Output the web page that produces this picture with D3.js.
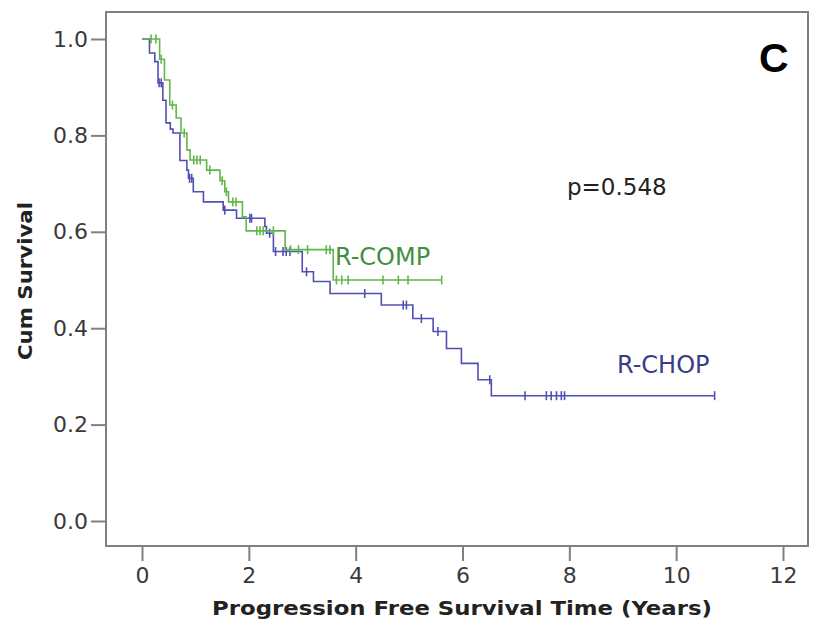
<!DOCTYPE html>
<html>
<head>
<meta charset="utf-8">
<script src="https://cdn.jsdelivr.net/npm/d3@7"></script>
<style>
  html, body { margin: 0; padding: 0; background: #fff; }
  svg { display: block; }
</style>
</head>
<body>
<svg id="chart" width="815" height="630"></svg>
<script>
// ---- Data ----
const xTicks = [0, 2, 4, 6, 8, 10, 12];
const yTicks = [0.0, 0.2, 0.4, 0.6, 0.8, 1.0];

// R-CHOP: event times (years) and survival after each step
const chopTimes = [0.14, 0.24, 0.30, 0.39, 0.45, 0.53, 0.58, 0.71, 0.84, 0.87, 0.96, 1.15, 1.52, 1.77, 2.30, 2.33, 2.46, 3.00, 3.21, 3.52, 4.48, 5.07, 5.45, 5.70, 5.98, 6.29, 6.54];
const chopSurv  = [0.971, 0.953, 0.909, 0.873, 0.826, 0.813, 0.805, 0.748, 0.728, 0.711, 0.683, 0.662, 0.645, 0.628, 0.611, 0.597, 0.559, 0.517, 0.497, 0.472, 0.448, 0.420, 0.393, 0.358, 0.327, 0.293, 0.260];
const chopEnd = 10.72;
const chopCensor = [0.32, 0.36, 0.89, 0.93, 1.55, 2.02, 2.05, 2.39, 2.50, 2.64, 2.70, 2.77, 3.08, 4.17, 4.89, 4.95, 5.23, 5.54, 6.51, 7.17, 7.57, 7.66, 7.76, 7.85, 7.91, 10.72];

// R-COMP
const compTimes = [0.33, 0.42, 0.52, 0.64, 0.73, 0.84, 0.90, 1.21, 1.46, 1.55, 1.62, 1.88, 1.95, 2.68, 3.58];
const compSurv  = [0.958, 0.915, 0.863, 0.836, 0.805, 0.770, 0.749, 0.728, 0.706, 0.683, 0.662, 0.631, 0.602, 0.563, 0.500];
const compEnd = 5.61;
const compCensor = [0.17, 0.26, 0.36, 0.57, 0.79, 0.97, 1.03, 1.09, 1.27, 1.50, 1.58, 1.70, 1.76, 2.15, 2.21, 2.27, 2.46, 2.78, 2.93, 3.10, 3.45, 3.52, 3.64, 3.74, 3.86, 4.51, 4.80, 4.98, 5.61];

const seriesNames = ["R-CHOP", "R-COMP"];
const pValueText = "p=0.548";
const panelLabel = "C";
const xTitle = "Progression Free Survival Time (Years)";
const yTitle = "Cum Survival";

// ---- Layout ----
const svg = d3.select("#chart");
const frame = { left: 106, right: 808, top: 12, bottom: 546 };
const x = d3.scaleLinear().domain([0, 12]).range([142, 783]);
const y = d3.scaleLinear().domain([0, 1]).range([521, 39]);

const axisColor = "#808080";
const tickTextColor = "#3a3a3a";
const chopColor = "#5050b4";
const compColor = "#62b64a";

// Frame
svg.append("rect")
  .attr("x", frame.left).attr("y", frame.top)
  .attr("width", frame.right - frame.left).attr("height", frame.bottom - frame.top)
  .attr("fill", "none").attr("stroke", axisColor).attr("stroke-width", 2);

// Y axis
const yAxis = svg.append("g")
  .attr("transform", `translate(${frame.left},0)`)
  .call(d3.axisLeft(y).tickValues(yTicks).tickFormat(d3.format(".1f")).tickSize(15).tickPadding(3));
yAxis.select(".domain").remove();
yAxis.selectAll("line").attr("stroke", axisColor).attr("stroke-width", 2);
yAxis.selectAll("text")
  .attr("fill", tickTextColor)
  .style("font-family", "'DejaVu Sans', sans-serif")
  .style("font-size", "22px");

// X axis
const xAxis = svg.append("g")
  .attr("transform", `translate(0,${frame.bottom + 1})`)
  .call(d3.axisBottom(x).tickValues(xTicks).tickFormat(d3.format("d")).tickSize(14).tickPadding(6));
xAxis.select(".domain").remove();
xAxis.selectAll("line").attr("stroke", axisColor).attr("stroke-width", 2);
xAxis.selectAll("text")
  .attr("fill", tickTextColor)
  .style("font-family", "'DejaVu Sans', sans-serif")
  .style("font-size", "22px");

// Titles
svg.append("text")
  .attr("x", 462).attr("y", 615)
  .attr("text-anchor", "middle")
  .attr("textLength", 500).attr("lengthAdjust", "spacingAndGlyphs")
  .attr("fill", "#222")
  .style("font-family", "'DejaVu Sans', sans-serif")
  .style("font-weight", "bold").style("font-size", "20px")
  .text(xTitle);

svg.append("text")
  .attr("transform", "translate(32,281) rotate(-90)")
  .attr("text-anchor", "middle")
  .attr("textLength", 158).attr("lengthAdjust", "spacingAndGlyphs")
  .attr("fill", "#222")
  .style("font-family", "'DejaVu Sans', sans-serif")
  .style("font-weight", "bold").style("font-size", "20px")
  .text(yTitle);

// Step curves
function stepPoints(times, surv, end) {
  const pts = [[0, 1]];
  times.forEach((t, i) => pts.push([t, surv[i]]));
  pts.push([end, surv[surv.length - 1]]);
  return pts;
}
function survAt(times, surv, t) {
  let s = 1;
  for (let i = 0; i < times.length; i++) { if (times[i] <= t) s = surv[i]; }
  return s;
}
const line = d3.line().x(d => x(d[0])).y(d => y(d[1])).curve(d3.curveStepAfter);

const series = [
  { name: seriesNames[0], times: chopTimes, surv: chopSurv, end: chopEnd, censor: chopCensor, color: chopColor },
  { name: seriesNames[1], times: compTimes, surv: compSurv, end: compEnd, censor: compCensor, color: compColor }
];

series.forEach(sr => {
  const g = svg.append("g");
  g.append("path")
    .datum(stepPoints(sr.times, sr.surv, sr.end))
    .attr("d", line)
    .attr("fill", "none")
    .attr("stroke", sr.color)
    .attr("stroke-width", 1.6);
  g.selectAll("line.censor")
    .data(sr.censor)
    .join("line")
    .attr("class", "censor")
    .attr("x1", d => x(d)).attr("x2", d => x(d))
    .attr("y1", d => y(survAt(sr.times, sr.surv, d)) - 4.5)
    .attr("y2", d => y(survAt(sr.times, sr.surv, d)) + 4.5)
    .attr("stroke", sr.color)
    .attr("stroke-width", 1.6);
});

// Annotations
svg.append("text")
  .attr("x", 567).attr("y", 195)
  .attr("fill", "#222")
  .style("font-family", "'DejaVu Sans', sans-serif").style("font-size", "23px")
  .text(pValueText);

svg.append("text")
  .attr("x", 335).attr("y", 265)
  .attr("fill", "#3f8f3f")
  .style("font-family", "'DejaVu Sans', sans-serif").style("font-size", "24px")
  .text(seriesNames[1]);

svg.append("text")
  .attr("x", 617).attr("y", 373)
  .attr("fill", "#3c3c86")
  .style("font-family", "'DejaVu Sans', sans-serif").style("font-size", "24px")
  .text(seriesNames[0]);

svg.append("text")
  .attr("x", 759).attr("y", 72)
  .attr("fill", "#000")
  .style("font-family", "'Liberation Sans', Arial, sans-serif")
  .style("font-weight", "bold").style("font-size", "41px")
  .text(panelLabel);
</script>
</body>
</html>
